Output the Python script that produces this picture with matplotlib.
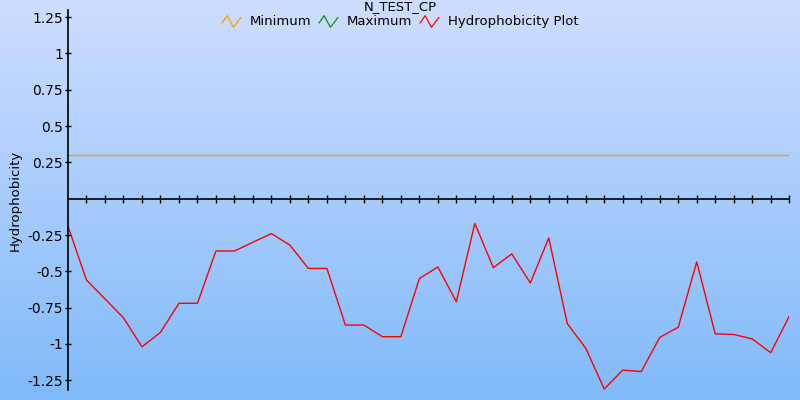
import numpy as np
import matplotlib
matplotlib.use('Agg')
import matplotlib.pyplot as plt
from matplotlib.lines import Line2D
from matplotlib.path import Path

# Datos del gráfico
titulo = 'N_TEST_CP'
series_nombres = ['Minimum', 'Maximum', 'Hydrophobicity Plot']
series_colores = ['#f5a000', '#109010', '#ff0000']
minimo = 0.3
hidro = [-0.19, -0.56, -0.69, -0.82, -1.02, -0.92, -0.72, -0.72, -0.36, -0.36,
         -0.30, -0.24, -0.32, -0.48, -0.48, -0.87, -0.87, -0.95, -0.95, -0.55,
         -0.47, -0.71, -0.17, -0.475, -0.38, -0.58, -0.27, -0.86, -1.03, -1.31,
         -1.18, -1.19, -0.955, -0.885, -0.435, -0.93, -0.935, -0.965, -1.06, -0.81]
yticks = [-1.25, -1, -0.75, -0.5, -0.25, 0.25, 0.5, 0.75, 1, 1.25]
ytick_labels = ['-1.25', '-1', '-0.75', '-0.5', '-0.25', '0.25', '0.5', '0.75', '1', '1.25']

x = np.arange(len(hidro))

fig = plt.figure(figsize=(8, 4), dpi=100)

# Fondo degradado
bg = fig.add_axes([0, 0, 1, 1], zorder=-10)
grad = np.linspace(0, 1, 256).reshape(-1, 1)
top = np.array([206, 221, 255]) / 255
bot = np.array([128, 186, 249]) / 255
img = top[None, None, :] * (1 - grad[:, :, None]) + bot[None, None, :] * grad[:, :, None]
bg.imshow(img, aspect='auto', extent=[0, 1, 0, 1])
bg.axis('off')

ax = fig.add_axes([0.085, 0.025, 0.9015, 0.95])
ax.set_facecolor('none')

ax.axhline(minimo, color=series_colores[0], lw=1)
ax.plot(x, hidro, color=series_colores[2], lw=1)

ax.set_xlim(0, len(hidro) - 1)
ax.set_ylim(-1.317, 1.299)

ax.spines['top'].set_visible(False)
ax.spines['right'].set_visible(False)
ax.spines['bottom'].set_position(('data', 0))
ax.spines['left'].set_linewidth(1.2)
ax.spines['bottom'].set_linewidth(1.2)

ax.set_xticks(x[1:])
ax.set_xticklabels([])
ax.tick_params(axis='x', direction='inout', length=5.5, width=1)
ax.set_yticks(yticks)
ax.set_yticklabels(ytick_labels)
ax.tick_params(axis='y', direction='inout', length=5, width=1, labelsize=10, pad=1)

fig.text(0.019, 0.5, 'Hydrophobicity', rotation=90, va='center', ha='center', fontsize=9.5)
fig.text(0.5, 0.999, titulo, ha='center', va='top', fontsize=9.5)

# Leyenda con iconos en zigzag
zig = Path([(-1, -0.2), (-0.45, 0.6), (0.2, -0.6), (1, 0.45)])
handles = [Line2D([], [], linestyle='none', marker=zig, markersize=14,
                  markerfacecolor='none', markeredgecolor=c, markeredgewidth=0.9)
           for c in series_colores]
fig.legend(handles, series_nombres, loc='upper center', bbox_to_anchor=(0.5, 0.978),
           ncol=3, frameon=False, fontsize=9.5, handlelength=1.4,
           handletextpad=0.7, columnspacing=0.6, borderpad=0)

fig.savefig('out.png', dpi=100)
